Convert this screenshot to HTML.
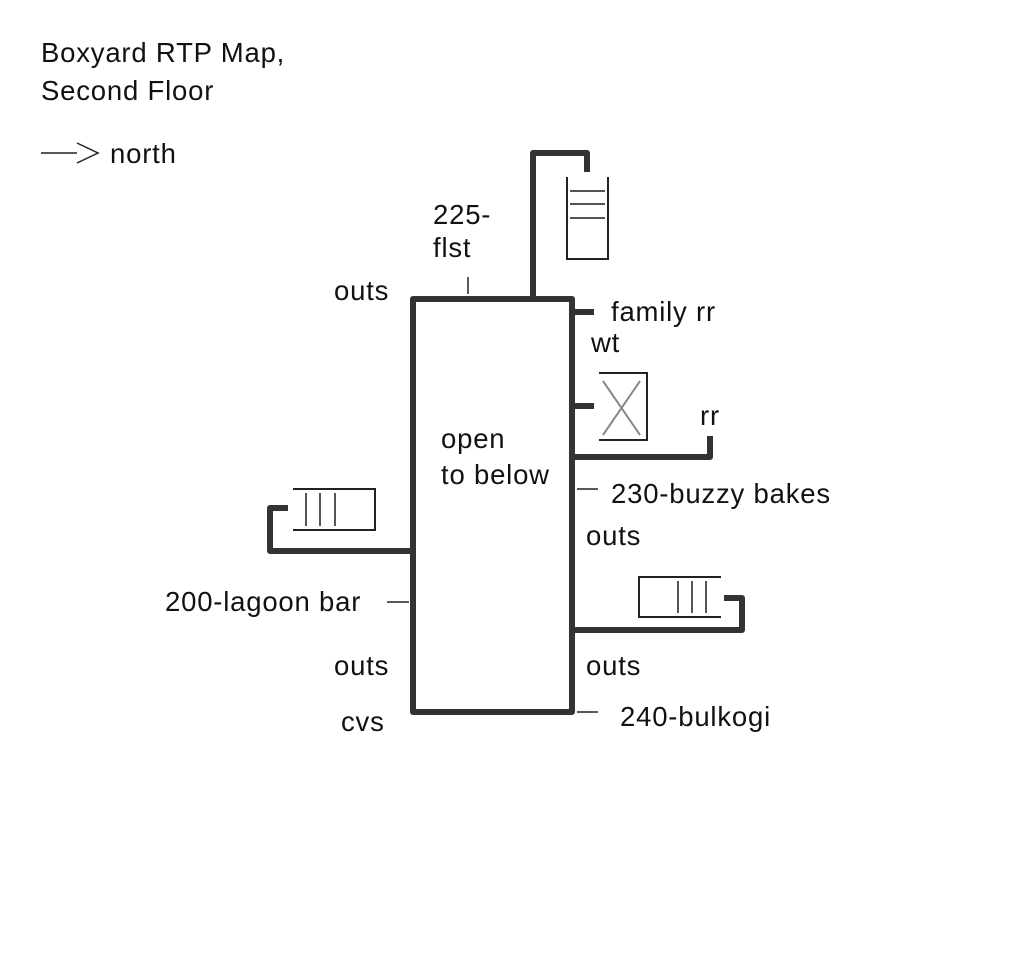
<!DOCTYPE html>
<html><head><style>
body{margin:0;background:#fff}
svg{position:absolute;left:0;top:0}
text{font-family:"Liberation Sans",sans-serif;font-size:27.5px;letter-spacing:0.8px;fill:#111}
</style></head><body>
<svg width="1023" height="980" viewBox="0 0 1023 980">
<g fill="none" stroke="#333" stroke-width="6" stroke-linejoin="round">
<rect x="413" y="299" width="159" height="413"/>
<polyline points="533,299 533,153 587,153 587,172"/>
<line x1="572" y1="312" x2="594" y2="312"/>
<line x1="572" y1="406" x2="594" y2="406"/>
<polyline points="572,457 710,457 710,436"/>
<polyline points="572,630 742,630 742,598 724,598"/>
<polyline points="413,551 270,551 270,508 288,508"/>
</g>
<g fill="none" stroke="#222" stroke-width="2">
<polyline points="567,177 567,259 608,259 608,177"/>
<polyline points="599,373 647,373 647,440 599,440"/>
<polyline points="721,577 639,577 639,617 721,617"/>
<polyline points="293,489 375,489 375,530 293,530"/>
<line x1="468" y1="277" x2="468" y2="294" stroke-width="1.5"/>
<line x1="577" y1="489" x2="598" y2="489" stroke-width="1.5"/>
<line x1="577" y1="712" x2="598" y2="712" stroke-width="1.5"/>
<line x1="387" y1="602" x2="409" y2="602" stroke-width="1.5"/>
<polyline points="41,153 77,153" stroke-width="1.5"/>
<polyline points="77,143 98,153 77,163" stroke-width="1.5"/>
</g>
<g stroke="#555" stroke-width="2">
<line x1="570" y1="191" x2="605" y2="191"/><line x1="570" y1="204" x2="605" y2="204"/><line x1="570" y1="218" x2="605" y2="218"/>
<line x1="603" y1="381" x2="640" y2="435" stroke="#888"/><line x1="640" y1="381" x2="603" y2="435" stroke="#888"/>
<line x1="678" y1="581" x2="678" y2="613"/><line x1="692" y1="581" x2="692" y2="613"/><line x1="706" y1="581" x2="706" y2="613"/>
<line x1="306" y1="493" x2="306" y2="526"/><line x1="320" y1="493" x2="320" y2="526"/><line x1="335" y1="493" x2="335" y2="526"/>
</g>
<text x="41" y="62">Boxyard RTP Map,</text>
<text x="41" y="100">Second Floor</text>
<text x="110" y="163">north</text>
<text x="433" y="224">225-</text>
<text x="433" y="257">flst</text>
<text x="334" y="300">outs</text>
<text x="611" y="321">family rr</text>
<text x="591" y="352">wt</text>
<text x="700" y="425">rr</text>
<text x="441" y="448">open</text>
<text x="441" y="484">to below</text>
<text x="611" y="503">230-buzzy bakes</text>
<text x="586" y="545">outs</text>
<text x="165" y="611">200-lagoon bar</text>
<text x="334" y="675">outs</text>
<text x="586" y="675">outs</text>
<text x="341" y="731">cvs</text>
<text x="620" y="726">240-bulkogi</text>
</svg>
</body></html>
